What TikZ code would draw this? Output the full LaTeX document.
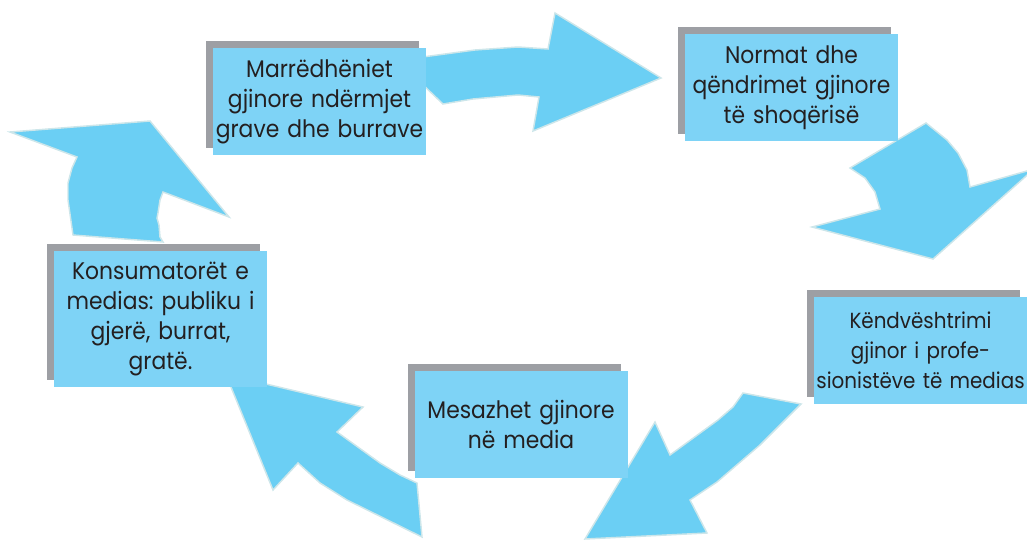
\documentclass[tikz,border=0pt]{standalone}
\usepackage{fontspec}
\setmainfont{Poppins}[FakeStretch=0.91]
\usetikzlibrary{shadows}
\frenchspacing

\definecolor{arrowblue}{HTML}{6BCFF4}
\definecolor{arrowedge}{HTML}{CDE6EA}
\definecolor{boxblue}{HTML}{7ED3F6}
\definecolor{boxshadow}{HTML}{9D9FA4}
\definecolor{boxtext}{HTML}{231F20}

\tikzset{every picture/.style={line width=0.75pt}}
\tikzset{
  bigarrow/.style={fill=arrowblue, draw=arrowedge, line width=1.1pt, line join=miter},
  stagebox/.style={fill=boxblue, text=boxtext, align=center, inner ysep=0pt, inner xsep=-8pt,
    minimum width=159.75pt, minimum height=80.25pt, text width=175.75pt,
    font=\fontsize{18}{22.5}\selectfont,
    drop shadow={fill=boxshadow, opacity=1, shadow xshift=-5.25pt, shadow yshift=5.25pt}}
}

\begin{document}
\begin{tikzpicture}[x=0.75pt,y=0.75pt,yscale=-1,xscale=1]
\useasboundingbox (0,0) rectangle (1027,539);

%Shape: Arrow top
\draw [bigarrow] (415,58) -- (475,50) -- (518,47) -- (548,49) -- (555,13) -- (661,78) -- (533,131) -- (539,97) -- (518,95) -- (473,99) -- (443,104) -- (420,82) -- cycle ;
%Shape: Arrow right
\draw [bigarrow] (926,123) -- (947,140) -- (958,153) -- (967,170) -- (970,187) -- (1034,169) -- (933,259) -- (812,227) -- (880,209) -- (875,192) -- (865,178) -- (850,168) -- cycle ;
%Shape: Arrow bottom right
\draw [bigarrow] (743,393) -- (801,404) -- (760,445) -- (717,482) -- (690,500) -- (707,533) -- (585,539) -- (655,422) -- (670,455) -- (718,420) -- (733,407) -- cycle ;
%Shape: Arrow bottom left
\draw [bigarrow] (225,372) -- (231,387) -- (273,490) -- (298,463) -- (320,483) -- (347,500) -- (422,537) -- (417,483) -- (400,475) -- (380,463) -- (337,432) -- (363,407) -- (266,384) -- cycle ;
%Shape: Arrow left
\draw [bigarrow] (10,132) -- (150,121) -- (229,217) -- (163,192) -- (160,200) -- (158,213) -- (157,218) -- (159,225) -- (160,237) -- (163,242) -- (73,235) -- (68,200) -- (68,183) -- (72,168) -- (77,157) -- cycle ;

%Boxes
\node [stagebox] (relations) at (319.5,101.5) {Marrëdhëniet\\gjinore ndërmjet\\grave dhe burrave};
\node [stagebox] (norms) at (791.5,87.5) {Normat dhe\\qëndrimet gjinore\\të shoqërisë};
\node [stagebox, font=\fontsize{16.4}{22.5}\selectfont] (perspective) at (920.5,350) {Këndvështrimi\\gjinor i profe-\\sionistëve të medias};
\node [stagebox, minimum height=102pt] (consumers) at (160.5,319) {Konsumatorët e\\medias: publiku i\\gjerë, burrat,\\gratë.};
\node [stagebox] (messages) at (521,424) {Mesazhet gjinore\\në media};

\end{tikzpicture}
\end{document}
